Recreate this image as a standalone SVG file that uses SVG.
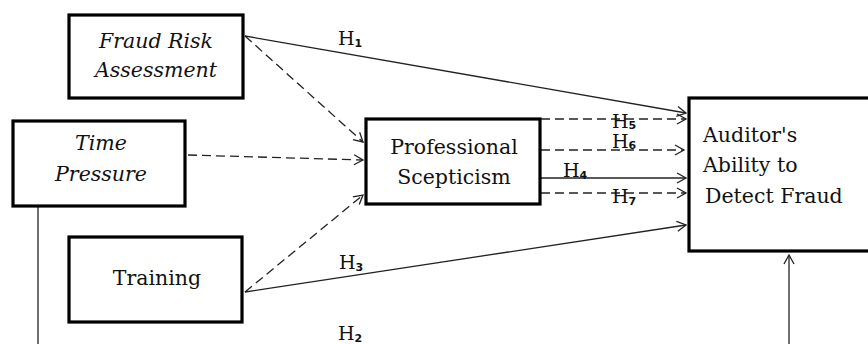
<svg xmlns="http://www.w3.org/2000/svg" width="868" height="344" viewBox="0 0 868 344">
<defs>
<style>
.box{fill:#fff;stroke:#000;stroke-width:3.2}
.t{font-family:"DejaVu Serif","Liberation Serif",serif;font-size:20.5px;fill:#111}
.it{font-style:italic}
.c{stroke:#222;stroke-width:1.3;fill:none}
.d{stroke-dasharray:9 5}
.h{font-family:"DejaVu Serif","Liberation Serif",serif;font-size:19px;fill:#111}
.s{font-family:"DejaVu Sans","Liberation Sans",sans-serif;font-size:11px;font-weight:bold}
</style>
<marker id="a" markerUnits="userSpaceOnUse" markerWidth="12" markerHeight="12" refX="10" refY="6" orient="auto" viewBox="0 0 12 12">
<path d="M1,1 L10,6 L1,11" fill="none" stroke="#222" stroke-width="1.3"/>
</marker>
</defs>
<g id="connectors">
<line class="c" x1="245" y1="36" x2="686" y2="113" marker-end="url(#a)"/>
<line class="c d" x1="245" y1="36" x2="363" y2="142" marker-end="url(#a)"/>
<line class="c d" x1="188" y1="155" x2="363" y2="160" marker-end="url(#a)"/>
<line class="c d" x1="245" y1="292" x2="363" y2="195" marker-end="url(#a)"/>
<line class="c" x1="245" y1="292" x2="686" y2="225" marker-end="url(#a)"/>
<line class="c d" x1="541" y1="119" x2="686" y2="119" marker-end="url(#a)"/>
<line class="c d" x1="541" y1="150" x2="684" y2="150" marker-end="url(#a)"/>
<line class="c" x1="541" y1="178" x2="686" y2="178" marker-end="url(#a)"/>
<line class="c d" x1="541" y1="193" x2="686" y2="193" marker-end="url(#a)"/>
<line class="c" x1="38" y1="201" x2="38" y2="344"/>
<line class="c" x1="789" y1="344" x2="789" y2="255" marker-end="url(#a)"/>
<text class="h" x="338" y="45">H<tspan class="s" dy="2">1</tspan></text>
<text class="h" x="339" y="269">H<tspan class="s" dy="2">3</tspan></text>
<text class="h" x="338" y="340">H<tspan class="s" dy="2">2</tspan></text>
<text class="h" x="612" y="128">H<tspan class="s" dy="0.5">5</tspan></text>
<text class="h" x="612" y="148">H<tspan class="s" dy="1">6</tspan></text>
<text class="h" x="563" y="177">H<tspan class="s" dy="2">4</tspan></text>
<text class="h" x="612" y="203">H<tspan class="s" dy="2">7</tspan></text>
</g>
<g id="fraud-risk">
<rect class="box" x="69" y="15" width="174" height="83"/>
<text class="t it" x="156" y="48" text-anchor="middle">Fraud Risk</text>
<text class="t it" x="156" y="77" text-anchor="middle">Assessment</text>
</g>
<g id="time-pressure">
<rect class="box" x="13" y="121" width="172" height="85"/>
<text class="t it" x="101" y="150" text-anchor="middle">Time</text>
<text class="t it" x="101" y="181" text-anchor="middle">Pressure</text>
</g>
<g id="training">
<rect class="box" x="69" y="237" width="173" height="85"/>
<text class="t" x="157" y="285" text-anchor="middle">Training</text>
</g>
<g id="professional-scepticism">
<rect class="box" x="366" y="119" width="174" height="85"/>
<text class="t" x="454" y="154" text-anchor="middle">Professional</text>
<text class="t" x="454" y="184" text-anchor="middle">Scepticism</text>
</g>
<g id="auditor-ability">
<rect class="box" x="689" y="98" width="190" height="153"/>
<text class="t" x="703" y="142">Auditor's</text>
<text class="t" x="703" y="172">Ability to</text>
<text class="t" x="705" y="203">Detect Fraud</text>
</g>
</svg>
